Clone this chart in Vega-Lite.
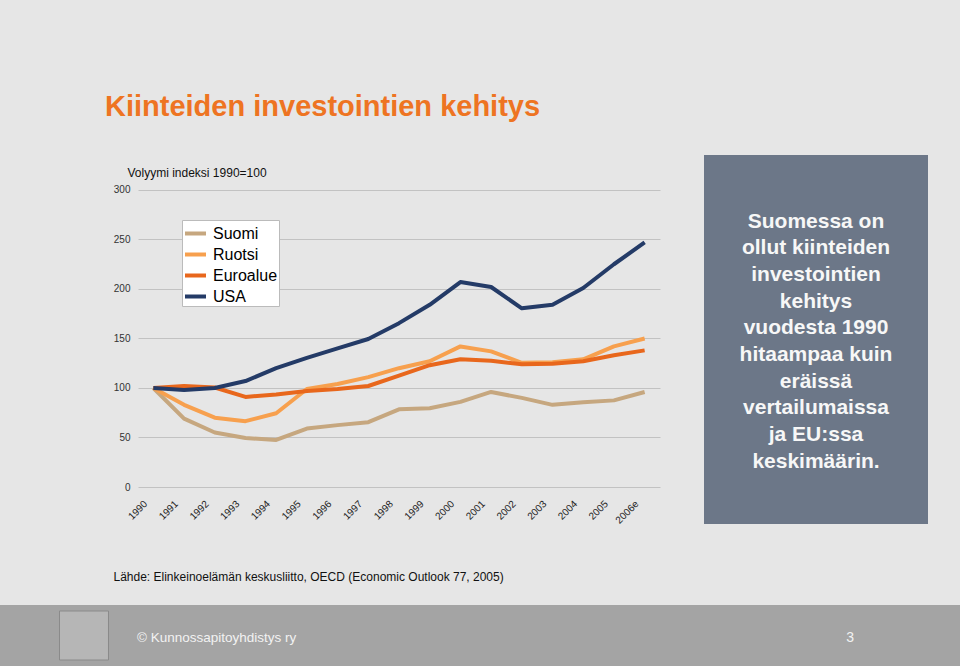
{
  "$schema": "https://vega.github.io/schema/vega-lite/v6.json",
  "background": "#e6e6e6",
  "padding": {"left": 0, "top": 93, "right": 0, "bottom": 0},
  "config": {"font": "Liberation Sans", "view": {"stroke": null}},
  "title": {
    "text": "Kiinteiden investointien kehitys",
    "anchor": "start",
    "dx": 105,
    "offset": 33,
    "fontSize": 29,
    "fontWeight": "bold",
    "font": "Liberation Sans",
    "color": "#EE7422"
  },
  "spacing": 23,
  "vconcat": [
    {
      "spacing": 44,
      "bounds": "flush",
      "hconcat": [
        {
          "width": 94,
          "height": 10,
          "data": {"values": []},
          "mark": "point"
        },
        {
          "width": 522,
          "height": 332,
          "data": {
            "values": [
              {"vuosi": "1990", "maa": "Suomi", "indeksi": 100},
              {"vuosi": "1991", "maa": "Suomi", "indeksi": 69},
              {"vuosi": "1992", "maa": "Suomi", "indeksi": 55},
              {"vuosi": "1993", "maa": "Suomi", "indeksi": 49.5},
              {"vuosi": "1994", "maa": "Suomi", "indeksi": 47.5},
              {"vuosi": "1995", "maa": "Suomi", "indeksi": 59},
              {"vuosi": "1996", "maa": "Suomi", "indeksi": 62.5},
              {"vuosi": "1997", "maa": "Suomi", "indeksi": 65.5},
              {"vuosi": "1998", "maa": "Suomi", "indeksi": 78.5},
              {"vuosi": "1999", "maa": "Suomi", "indeksi": 79.5},
              {"vuosi": "2000", "maa": "Suomi", "indeksi": 86},
              {"vuosi": "2001", "maa": "Suomi", "indeksi": 96},
              {"vuosi": "2002", "maa": "Suomi", "indeksi": 90},
              {"vuosi": "2003", "maa": "Suomi", "indeksi": 83},
              {"vuosi": "2004", "maa": "Suomi", "indeksi": 85.5},
              {"vuosi": "2005", "maa": "Suomi", "indeksi": 87.5},
              {"vuosi": "2006e", "maa": "Suomi", "indeksi": 96},
              {"vuosi": "1990", "maa": "Ruotsi", "indeksi": 100},
              {"vuosi": "1991", "maa": "Ruotsi", "indeksi": 83},
              {"vuosi": "1992", "maa": "Ruotsi", "indeksi": 70},
              {"vuosi": "1993", "maa": "Ruotsi", "indeksi": 66.5},
              {"vuosi": "1994", "maa": "Ruotsi", "indeksi": 74.5},
              {"vuosi": "1995", "maa": "Ruotsi", "indeksi": 99},
              {"vuosi": "1996", "maa": "Ruotsi", "indeksi": 104},
              {"vuosi": "1997", "maa": "Ruotsi", "indeksi": 111},
              {"vuosi": "1998", "maa": "Ruotsi", "indeksi": 120},
              {"vuosi": "1999", "maa": "Ruotsi", "indeksi": 127},
              {"vuosi": "2000", "maa": "Ruotsi", "indeksi": 142},
              {"vuosi": "2001", "maa": "Ruotsi", "indeksi": 137},
              {"vuosi": "2002", "maa": "Ruotsi", "indeksi": 125.5},
              {"vuosi": "2003", "maa": "Ruotsi", "indeksi": 126},
              {"vuosi": "2004", "maa": "Ruotsi", "indeksi": 129},
              {"vuosi": "2005", "maa": "Ruotsi", "indeksi": 142},
              {"vuosi": "2006e", "maa": "Ruotsi", "indeksi": 150},
              {"vuosi": "1990", "maa": "Euroalue", "indeksi": 100},
              {"vuosi": "1991", "maa": "Euroalue", "indeksi": 102},
              {"vuosi": "1992", "maa": "Euroalue", "indeksi": 100.5},
              {"vuosi": "1993", "maa": "Euroalue", "indeksi": 91},
              {"vuosi": "1994", "maa": "Euroalue", "indeksi": 93.5},
              {"vuosi": "1995", "maa": "Euroalue", "indeksi": 97},
              {"vuosi": "1996", "maa": "Euroalue", "indeksi": 99},
              {"vuosi": "1997", "maa": "Euroalue", "indeksi": 102},
              {"vuosi": "1998", "maa": "Euroalue", "indeksi": 112.5},
              {"vuosi": "1999", "maa": "Euroalue", "indeksi": 123},
              {"vuosi": "2000", "maa": "Euroalue", "indeksi": 129},
              {"vuosi": "2001", "maa": "Euroalue", "indeksi": 127.5},
              {"vuosi": "2002", "maa": "Euroalue", "indeksi": 124},
              {"vuosi": "2003", "maa": "Euroalue", "indeksi": 124.5},
              {"vuosi": "2004", "maa": "Euroalue", "indeksi": 127},
              {"vuosi": "2005", "maa": "Euroalue", "indeksi": 133},
              {"vuosi": "2006e", "maa": "Euroalue", "indeksi": 138},
              {"vuosi": "1990", "maa": "USA", "indeksi": 100},
              {"vuosi": "1991", "maa": "USA", "indeksi": 98},
              {"vuosi": "1992", "maa": "USA", "indeksi": 100},
              {"vuosi": "1993", "maa": "USA", "indeksi": 107},
              {"vuosi": "1994", "maa": "USA", "indeksi": 120},
              {"vuosi": "1995", "maa": "USA", "indeksi": 130.5},
              {"vuosi": "1996", "maa": "USA", "indeksi": 140},
              {"vuosi": "1997", "maa": "USA", "indeksi": 149.5},
              {"vuosi": "1998", "maa": "USA", "indeksi": 165.5},
              {"vuosi": "1999", "maa": "USA", "indeksi": 184},
              {"vuosi": "2000", "maa": "USA", "indeksi": 207},
              {"vuosi": "2001", "maa": "USA", "indeksi": 202},
              {"vuosi": "2002", "maa": "USA", "indeksi": 180.5},
              {"vuosi": "2003", "maa": "USA", "indeksi": 184},
              {"vuosi": "2004", "maa": "USA", "indeksi": 201},
              {"vuosi": "2005", "maa": "USA", "indeksi": 225},
              {"vuosi": "2006e", "maa": "USA", "indeksi": 247}
            ]
          },
          "mark": {"type": "line", "strokeWidth": 4, "strokeJoin": "round"},
          "encoding": {
            "x": {
              "field": "vuosi",
              "type": "ordinal",
              "sort": null,
              "scale": {"type": "point", "padding": 0.5},
              "axis": {
                "title": "Lähde: Elinkeinoelämän keskusliitto, OECD (Economic Outlook 77, 2005)",
                "titleX": -25,
                "titleY": 93,
                "titleAlign": "left",
                "titleAnchor": "start",
                "titleBaseline": "alphabetic",
                "titleFontSize": 12,
                "titleFontWeight": "normal",
                "titleColor": "#111111",
                "labelAngle": -45,
                "labelAlign": "right",
                "labelBaseline": "middle",
                "labelFontSize": 10,
                "labelColor": "#222222",
                "labelPadding": 15,
                "labelOffset": -8,
                "ticks": false,
                "tickSize": 0,
                "domain": false,
                "grid": false
              }
            },
            "y": {
              "field": "indeksi",
              "type": "quantitative",
              "scale": {"domain": [0, 335.35], "nice": false},
              "axis": {
                "title": "Volyymi indeksi 1990=100",
                "titleAngle": 0,
                "titleX": -11,
                "titleY": 21,
                "titleAlign": "left",
                "titleBaseline": "alphabetic",
                "titleFontSize": 12,
                "titleFontWeight": "normal",
                "titleColor": "#111111",
                "values": [0, 50, 100, 150, 200, 250, 300],
                "labelFontSize": 10,
                "labelColor": "#333333",
                "labelPadding": 8,
                "ticks": false,
                "tickSize": 0,
                "domain": false,
                "gridColor": "#c2c2c2",
                "gridWidth": 1
              }
            },
            "color": {
              "field": "maa",
              "type": "nominal",
              "scale": {
                "domain": ["Suomi", "Ruotsi", "Euroalue", "USA"],
                "range": ["#C6A77F", "#F7A04E", "#E8671C", "#243B67"]
              },
              "legend": {
                "orient": "none",
                "legendX": 182,
                "legendY": 65,
                "title": null,
                "fillColor": "#ffffff",
                "strokeColor": "#bbbbbb",
                "padding": 1,
                "symbolType": "stroke",
                "symbolStrokeWidth": 4,
                "symbolSize": 441,
                "labelFontSize": 16,
                "labelColor": "#000000",
                "rowPadding": 0,
                "labelOffset": 5
              }
            }
          }
        },
        {
          "width": 224,
          "height": 369,
          "view": {"fill": "#6c7788", "stroke": null},
          "data": {
            "values": [
              {"teksti": "Suomessa on\nollut kiinteiden\ninvestointien\nkehitys\nvuodesta 1990\nhitaampaa kuin\neräissä\nvertailumaissa\nja EU:ssa\nkeskimäärin."}
            ]
          },
          "mark": {
            "type": "text",
            "lineBreak": "\n",
            "lineHeight": 26.7,
            "fontSize": 21,
            "fontWeight": "bold",
            "color": "#f7f7f7",
            "align": "center",
            "baseline": "middle",
            "dy": -118
          },
          "encoding": {"text": {"field": "teksti", "type": "nominal"}}
        }
      ]
    },
    {
      "width": 960,
      "height": 61,
      "view": {"fill": "#a4a4a4", "stroke": null},
      "layer": [
        {
          "data": {"values": [{"kohta": "logo"}]},
          "mark": {"type": "point", "shape": "square", "size": 2401, "filled": true, "color": "#b6b6b6", "stroke": "#8a8a8a", "strokeWidth": 1, "opacity": 1},
          "encoding": {
            "x": {"field": "kohta", "type": "nominal", "scale": {"type": "point", "domain": ["logo", "sivu"], "padding": 0.1266, "align": 0.433}, "axis": null}
          }
        },
        {
          "data": {"values": [{"kohta": "logo", "teksti": "© Kunnossapitoyhdistys ry"}]},
          "mark": {"type": "text", "align": "left", "dx": 53, "dy": 2, "fontSize": 13.5, "color": "#f2f2f2"},
          "encoding": {
            "x": {"field": "kohta", "type": "nominal", "axis": null},
            "text": {"field": "teksti", "type": "nominal"}
          }
        },
        {
          "data": {"values": [{"kohta": "sivu", "teksti": "3"}]},
          "mark": {"type": "text", "align": "center", "dy": 2, "fontSize": 14, "color": "#f2f2f2"},
          "encoding": {
            "x": {"field": "kohta", "type": "nominal", "axis": null},
            "text": {"field": "teksti", "type": "nominal"}
          }
        }
      ]
    }
  ]
}
